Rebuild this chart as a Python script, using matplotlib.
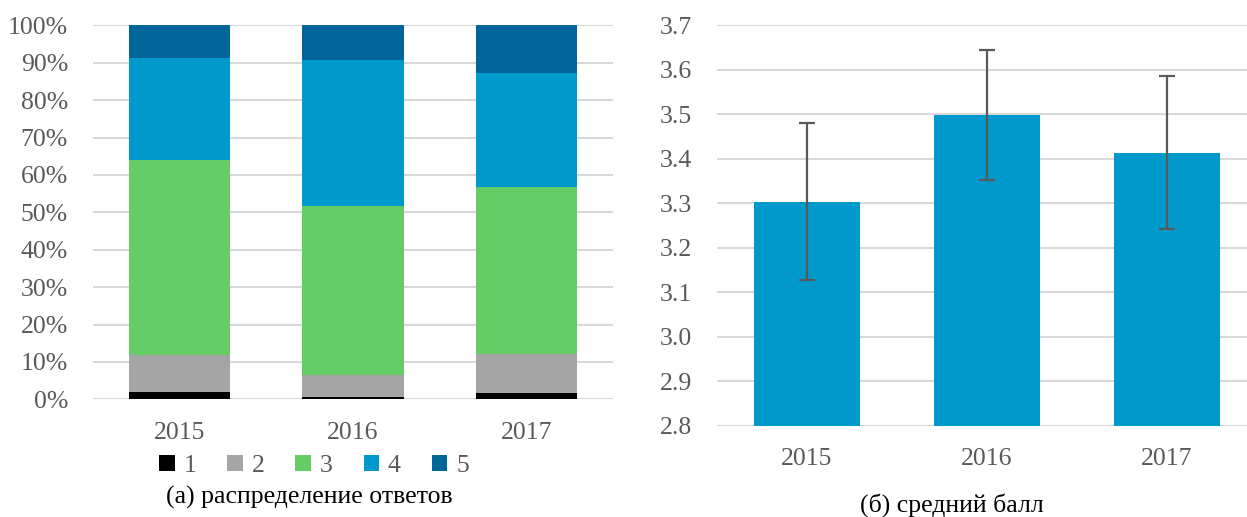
import matplotlib
matplotlib.use("Agg")
from matplotlib import pyplot as plt
from matplotlib.ticker import PercentFormatter

# ---- данные ----
years = ["2015", "2016", "2017"]
grades = ["1", "2", "3", "4", "5"]
share_1 = [2.0, 0.6, 1.6]
share_2 = [9.8, 6.0, 10.6]
share_3 = [52.2, 45.0, 44.5]
share_4 = [27.2, 39.0, 30.6]
share_5 = [8.8, 9.4, 12.7]
mean_score = [3.304, 3.498, 3.414]
mean_err = [0.176, 0.146, 0.171]

# ---- стиль ----
gradeColors = ["#000000", "#A5A5A5", "#66CC66", "#0099CC", "#006699"]
barColor = "#0099CC"
textColor = "#595959"
gridColor = "#D9D9D9"
fontSize = 18.5

plt.rcParams['font.family'] = ['Liberation Serif', 'DejaVu Serif']

W, H = 1247, 517
fig = plt.figure(figsize=(W / 100, H / 100), dpi=100)


def box(x0, x1, ytop, ybot):
    return [x0 / W, (H - ybot) / H, (x1 - x0) / W, (ybot - ytop) / H]


def style(ax):
    for s in ax.spines.values():
        s.set_visible(False)
    ax.yaxis.grid(True, color=gridColor, linewidth=1.5)
    ax.set_axisbelow(True)
    ax.tick_params(axis='both', length=0, labelsize=fontSize, labelcolor=textColor)
    ax.tick_params(axis='y', pad=18)
    ax.tick_params(axis='x', pad=16)
    ax.set_xlim(-0.5, 2.5)


# ---- (а) распределение ответов ----
ax1 = fig.add_axes(box(93, 613, 25.3, 399.3))
style(ax1)
xs = range(len(years))
bottom = [0, 0, 0]
series = [share_1, share_2, share_3, share_4, share_5]
for name, vals, col in zip(grades, series, gradeColors):
    ax1.bar(xs, vals, 0.585, bottom=bottom, color=col, label=name, edgecolor='none')
    bottom = [b + v for b, v in zip(bottom, vals)]
ax1.set_ylim(0, 100)
ax1.set_yticks(range(0, 101, 10))
ax1.yaxis.set_major_formatter(PercentFormatter(decimals=0))
ax1.set_xticks(list(xs))
ax1.set_xticklabels(years)

handles, labels = ax1.get_legend_handles_labels()
leg = fig.legend(handles, labels, loc='center', bbox_to_anchor=(314 / W, 1 - 466 / H),
                 ncol=5, frameon=False, fontsize=fontSize, handlelength=0.6, handleheight=0.6,
                 handletextpad=0.35, columnspacing=1.2, labelcolor=textColor)

fig.text(309 / W, 1 - 497 / H, "(а) распределение ответов", ha='center', va='center',
         fontsize=fontSize, color='black')

# ---- (б) средний балл ----
ax2 = fig.add_axes(box(717, 1257, 25.3, 425.8))
style(ax2)
ax2.bar(xs, mean_score, 0.59, color=barColor, edgecolor='none')
ax2.errorbar(xs, mean_score, yerr=mean_err, fmt='none', ecolor=textColor,
             elinewidth=1.6, capsize=6, capthick=1.6)
ax2.set_ylim(2.8, 3.7)
ax2.set_yticks([2.8 + 0.1 * i for i in range(10)])
ax2.set_yticklabels([f"{2.8 + 0.1 * i:.1f}" for i in range(10)])
ax2.set_xticks(list(xs))
ax2.set_xticklabels(years)

fig.text(952 / W, 1 - 505 / H, "(б) средний балл", ha='center', va='center',
         fontsize=fontSize, color='black')

fig.savefig("out.png", dpi=100)
